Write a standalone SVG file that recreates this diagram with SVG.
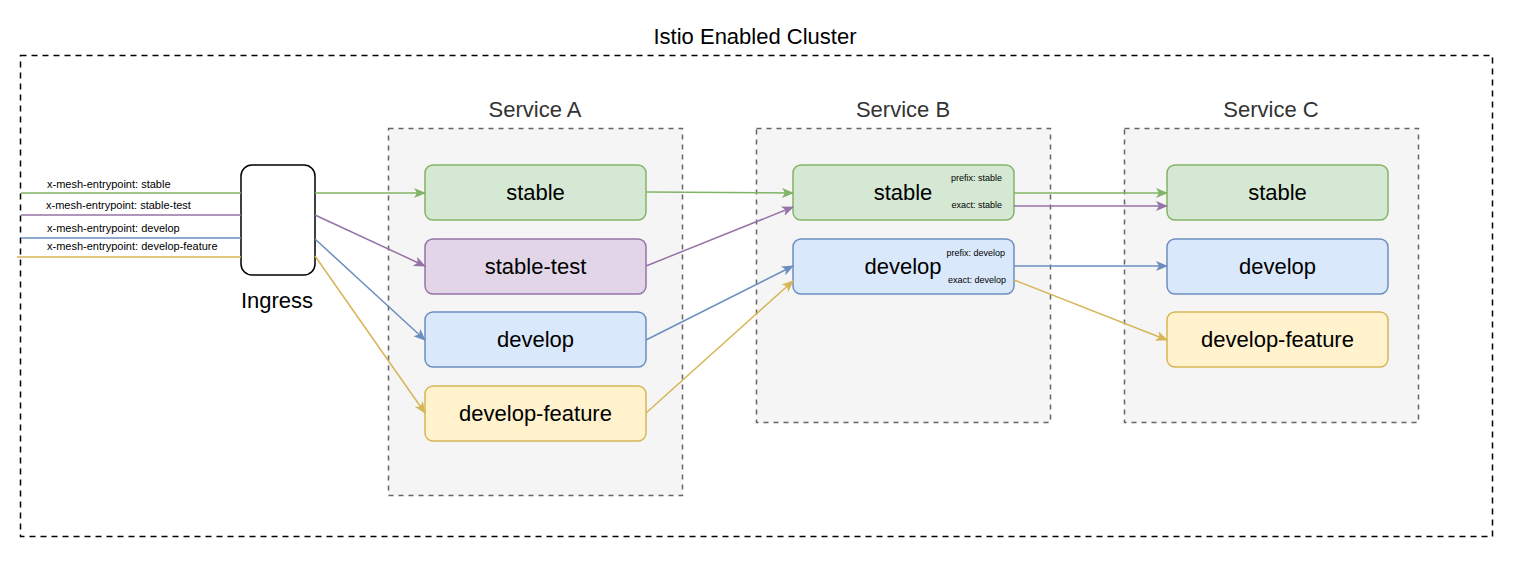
<svg xmlns="http://www.w3.org/2000/svg" width="1524" height="564" viewBox="0 0 1524 564">
<style>
text{font-family:"Liberation Sans",Arial,Helvetica,sans-serif;fill:#000}
.title{font-size:22px;text-anchor:middle;fill:#333}
.lbl{font-size:22px;text-anchor:middle}
.sm{font-size:9px;text-anchor:end}
.hdr{font-size:11px}
.svc{fill:#f5f5f5;stroke:#666;stroke-width:1.5;stroke-dasharray:5 5}
.g{fill:#d5e8d4;stroke:#82b366;stroke-width:1.5}
.p{fill:#e1d5e7;stroke:#9673a6;stroke-width:1.5}
.b{fill:#dae8fc;stroke:#6c8ebf;stroke-width:1.5}
.y{fill:#fff2cc;stroke:#d6b656;stroke-width:1.5}
.cg{stroke:#82b366}.cp{stroke:#9673a6}.cb{stroke:#6c8ebf}.cy{stroke:#d6b656}
#connectors path{fill:none;stroke-width:1.5}
</style>
<defs>
<marker id="ag" viewBox="0 0 12 10" refX="11" refY="5" markerWidth="12" markerHeight="10" markerUnits="userSpaceOnUse" orient="auto"><path d="M0,0 L12,5 L0,10 L3,5 Z" fill="#82b366"/></marker>
<marker id="ap" viewBox="0 0 12 10" refX="11" refY="5" markerWidth="12" markerHeight="10" markerUnits="userSpaceOnUse" orient="auto"><path d="M0,0 L12,5 L0,10 L3,5 Z" fill="#9673a6"/></marker>
<marker id="ab" viewBox="0 0 12 10" refX="11" refY="5" markerWidth="12" markerHeight="10" markerUnits="userSpaceOnUse" orient="auto"><path d="M0,0 L12,5 L0,10 L3,5 Z" fill="#6c8ebf"/></marker>
<marker id="ay" viewBox="0 0 12 10" refX="11" refY="5" markerWidth="12" markerHeight="10" markerUnits="userSpaceOnUse" orient="auto"><path d="M0,0 L12,5 L0,10 L3,5 Z" fill="#d6b656"/></marker>
</defs>
<rect width="1524" height="564" fill="#fff"/>
<g id="cluster">
<rect x="20.5" y="55.5" width="1472" height="481" fill="none" stroke="#000" stroke-width="1.5" stroke-dasharray="6 5"/>
<text class="title" x="755" y="44" style="fill:#000">Istio Enabled Cluster</text>
</g>
<g id="serviceA">
<rect class="svc" x="388.5" y="128.5" width="294" height="367"/>
<text class="title" x="535" y="117">Service A</text>
</g>
<g id="serviceB">
<rect class="svc" x="756.5" y="128.5" width="294" height="294"/>
<text class="title" x="903" y="117">Service B</text>
</g>
<g id="serviceC">
<rect class="svc" x="1124.5" y="128.5" width="294" height="294"/>
<text class="title" x="1271" y="117">Service C</text>
</g>
<g id="ingress">
<rect x="241" y="165" width="74" height="110" rx="11" fill="#fff" stroke="#000" stroke-width="1.5"/>
<text class="lbl" x="277" y="308">Ingress</text>
</g>
<g id="a-stable"><rect class="g" x="425" y="165" width="221" height="55" rx="8"/><text class="lbl" x="535.5" y="200">stable</text></g>
<g id="a-stable-test"><rect class="p" x="425" y="239" width="221" height="55" rx="8"/><text class="lbl" x="535.5" y="274">stable-test</text></g>
<g id="a-develop"><rect class="b" x="425" y="312" width="221" height="55" rx="8"/><text class="lbl" x="535.5" y="347">develop</text></g>
<g id="a-develop-feature"><rect class="y" x="425" y="386" width="221" height="55" rx="8"/><text class="lbl" x="535.5" y="421">develop-feature</text></g>
<g id="b-stable"><rect class="g" x="793" y="165" width="221" height="55" rx="8"/><text class="lbl" x="903" y="200">stable</text><text class="sm" x="1002" y="181">prefix: stable</text><text class="sm" x="1002" y="208">exact: stable</text></g>
<g id="b-develop"><rect class="b" x="793" y="239" width="221" height="55" rx="8"/><text class="lbl" x="903" y="274">develop</text><text class="sm" x="1005" y="256">prefix: develop</text><text class="sm" x="1006" y="283">exact: develop</text></g>
<g id="c-stable"><rect class="g" x="1167" y="165" width="221" height="55" rx="8"/><text class="lbl" x="1277.5" y="200">stable</text></g>
<g id="c-develop"><rect class="b" x="1167" y="239" width="221" height="55" rx="8"/><text class="lbl" x="1277.5" y="274">develop</text></g>
<g id="c-develop-feature"><rect class="y" x="1167" y="312" width="221" height="55" rx="8"/><text class="lbl" x="1277.5" y="347">develop-feature</text></g>
<g id="connectors">
<path class="cg" d="M21,193 H241"/>
<path class="cp" d="M21,215 H241"/>
<path class="cb" d="M21,238 H241"/>
<path class="cy" d="M17,257 H241"/>
<text class="hdr" x="47" y="188">x-mesh-entrypoint: stable</text>
<text class="hdr" x="46" y="209">x-mesh-entrypoint: stable-test</text>
<text class="hdr" x="47" y="232">x-mesh-entrypoint: develop</text>
<text class="hdr" x="47" y="250">x-mesh-entrypoint: develop-feature</text>
<path class="cg" d="M315,193 H425" marker-end="url(#ag)"/>
<path class="cp" d="M315,215 L425,266" marker-end="url(#ap)"/>
<path class="cb" d="M315,239 L425,340" marker-end="url(#ab)"/>
<path class="cy" d="M315,256 L425,413" marker-end="url(#ay)"/>
<path class="cg" d="M646,192 L793,193" marker-end="url(#ag)"/>
<path class="cp" d="M646,266 L793,207" marker-end="url(#ap)"/>
<path class="cb" d="M646,340 L793,266" marker-end="url(#ab)"/>
<path class="cy" d="M646,413 L793,281" marker-end="url(#ay)"/>
<path class="cg" d="M1014,193 H1167" marker-end="url(#ag)"/>
<path class="cp" d="M1014,206 H1167" marker-end="url(#ap)"/>
<path class="cb" d="M1014,266 H1167" marker-end="url(#ab)"/>
<path class="cy" d="M1014,280 L1167,340" marker-end="url(#ay)"/>
</g>
</svg>
